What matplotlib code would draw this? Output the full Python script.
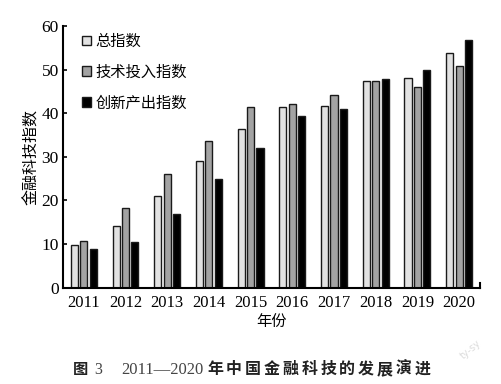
import matplotlib
matplotlib.use("Agg")
import matplotlib.pyplot as plt
import numpy as np

years = ["2011", "2012", "2013", "2014", "2015", "2016", "2017", "2018", "2019", "2020"]
total_index = [9.7, 14.1, 21.1, 29.1, 36.5, 41.5, 41.7, 47.5, 48.1, 53.8]
tech_input = [10.8, 18.3, 26.0, 33.7, 41.4, 42.1, 44.3, 47.3, 46.1, 50.8]
innov_output = [8.9, 10.4, 17.0, 24.9, 32.0, 39.3, 41.0, 47.8, 50.0, 56.7]
series_names = ["总指数", "技术投入指数", "创新产出指数"]
yticks = [0, 10, 20, 30, 40, 50, 60]
caption_tail = "年中国金融科技的发展演进"

serif = ["Liberation Serif", "Noto Sans CJK SC"]
cjk = ["Noto Sans CJK SC", "DejaVu Sans"]

W, H = 501, 384
fig = plt.figure(figsize=(W / 100, H / 100), dpi=100)
ax = fig.add_axes([0.1257, 0.2508, 0.958 - 0.1257, 0.932 - 0.2508])

x = np.arange(len(years))
w = 0.17
off = 0.225
colors = ["#e2e2e2", "#a3a3a3", "#000000"]
for i, (vals, c) in enumerate(zip([total_index, tech_input, innov_output], colors)):
    ax.bar(x + (i - 1) * off, vals, width=w, color=c, edgecolor="#1a1a1a",
           linewidth=1.0, label=series_names[i])

ax.set_xlim(-0.5, 9.5)
ax.set_ylim(0, 60)
ax.set_yticks(yticks)
ax.set_yticklabels([str(t) for t in yticks], fontfamily=serif, fontsize=12.5)
ax.set_xticks(x)
ax.set_xticklabels(years, fontfamily=serif, fontsize=12)
ax.tick_params(axis="y", direction="in", length=3, width=1.2, pad=3)
ax.tick_params(axis="x", length=0, pad=5)
for s in ["top", "right"]:
    ax.spines[s].set_visible(False)
for s in ["left", "bottom"]:
    ax.spines[s].set_linewidth(1.5)
# small upward tick at right end of x axis
ax.plot([9.5, 9.5], [0, 1.0], color="black", lw=1.5, clip_on=False)

ax.set_ylabel("金融科技指数", fontfamily=cjk, fontsize=11.5, labelpad=1)
ax.set_xlabel("年份", fontfamily=cjk, fontsize=11, labelpad=2)

leg = ax.legend(loc="upper left", bbox_to_anchor=(0.02, 1.015), frameon=False,
                prop={"family": cjk, "size": 11}, handlelength=0.6, handleheight=0.6,
                handletextpad=0.3, labelspacing=0.9, borderaxespad=0.3)

yb = 1 - 374 / H
fig.text(73 / W, yb, "图", fontfamily=cjk, fontsize=11, fontweight="bold",
         color="#222222", va="baseline")
fig.text(94 / W, yb, "3", fontfamily=serif, fontsize=11.5, color="#444444", va="baseline")
fig.text(121 / W, yb, "2011—2020", fontfamily=serif, fontsize=12, color="#444444", va="baseline")
for k, ch in enumerate(caption_tail):
    fig.text((207 + k * 18.9) / W, yb, ch, fontfamily=cjk, fontsize=11.5,
             fontweight="bold", color="#222222", va="baseline")
fig.text(0.915, 0.065, "ty-sy", fontfamily=["DejaVu Sans"], fontsize=7,
         color="#dddddd", rotation=40)

fig.savefig("out.png", dpi=100, facecolor="white")
